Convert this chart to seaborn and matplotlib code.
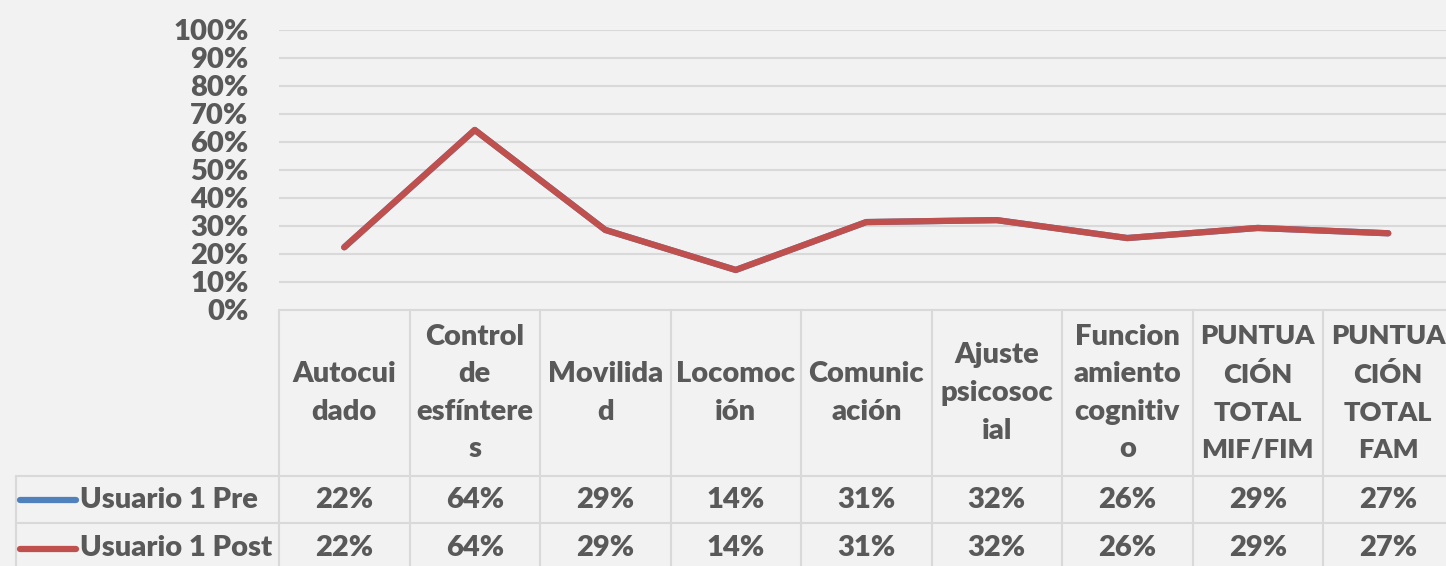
import numpy as np
import pandas as pd
import matplotlib
matplotlib.use("Agg")
import matplotlib.pyplot as plt
import seaborn as sns

# categories (full names) and the wrapped header text shown in the data table
categories = ["Autocuidado", "Control de esfínteres", "Movilidad", "Locomoción",
              "Comunicación", "Ajuste psicosocial", "Funcionamiento cognitivo",
              "PUNTUACIÓN TOTAL MIF/FIM", "PUNTUACIÓN TOTAL FAM"]
header_labels = ["Autocui\ndado", "Control\nde\nesfíntere\ns", "Movilida\nd", "Locomoc\nión",
                 "Comunic\nación", "Ajuste\npsicosoc\nial", "Funcion\namiento\ncognitiv\no",
                 "PUNTUA\nCIÓN\nTOTAL\nMIF/FIM", "PUNTUA\nCIÓN\nTOTAL\nFAM"]
pre_values = [0.224, 0.643, 0.286, 0.143, 0.314, 0.321, 0.257, 0.293, 0.274]
post_values = [0.224, 0.643, 0.286, 0.143, 0.314, 0.321, 0.257, 0.293, 0.274]
series_names = ["Usuario 1 Pre", "Usuario 1 Post"]
series_colors = ["#4F81BD", "#C0504D"]

df = pd.concat([
    pd.DataFrame({"Categoria": categories, "Valor": pre_values, "Serie": series_names[0]}),
    pd.DataFrame({"Categoria": categories, "Valor": post_values, "Serie": series_names[1]}),
], ignore_index=True)

sns.set_style("white")
plt.rcParams["font.family"] = ["Lato", "DejaVu Sans"]
bg = "#F2F2F2"
txt = "#595959"
grid = "#D9D9D9"
fs = 21
fw = "heavy"

W, H = 1446, 566
fig = plt.figure(figsize=(W / 100, H / 100), dpi=100, facecolor=bg)

# plot area in pixel terms
col_w = 130.5
left_px, top_px, bot_px = 279, 30, 310
ax = fig.add_axes([left_px / W, (H - bot_px) / H, 9 * col_w / W, (bot_px - top_px) / H])
ax.set_facecolor(bg)

sns.lineplot(data=df, x="Categoria", y="Valor", hue="Serie", hue_order=series_names,
             palette=series_colors, linewidth=4.5, sort=False, legend=False, ax=ax,
             solid_capstyle="round")

ax.set_xlim(-0.5, 8.5)
ax.set_ylim(0, 1)
ax.set_yticks(np.arange(0, 1.01, 0.1))
ax.set_yticklabels([f"{int(round(v * 100))}%" for v in np.arange(0, 1.01, 0.1)],
                   fontsize=fs, fontweight=fw, color=txt)
ax.tick_params(axis="y", length=0, pad=22)
ax.set_xticks([])
ax.set_xlabel("")
ax.set_ylabel("")
for v in np.arange(0.1, 1.01, 0.1):
    ax.axhline(v, color=grid, lw=1.5, zorder=0)
for s in ax.spines.values():
    s.set_visible(False)

# data table below the plot
tax = fig.add_axes([left_px / W, 0, 9 * col_w / W, (H - bot_px) / H])
tax.set_xlim(-0.5, 8.5)
tax.set_ylim(H, bot_px)
tax.axis("off")

leg_left = -0.5 - (left_px - 16) / col_w
row1, row2, row_end = 476, 523, 572
lkw = dict(color=grid, lw=1.5, clip_on=False)
tax.plot([-0.5, 8.5], [bot_px, bot_px], **lkw)
for yy in [row1, row2]:
    tax.plot([leg_left, 8.5], [yy, yy], **lkw)
for k in range(10):
    xx = -0.5 + k
    tax.plot([xx, xx], [bot_px, row_end], **lkw)
tax.plot([leg_left, leg_left], [row1, row_end], **lkw)

for i, lab in enumerate(header_labels):
    # the all-caps headers are wider in this font, so shrink them a bit to fit the cell
    hfs = 19.5 if lab.isupper() else fs
    tax.text(i, (bot_px + row1) / 2, lab, ha="center", va="center", fontsize=hfs,
             fontweight=fw, color=txt, linespacing=1.55 * fs / hfs, clip_on=False)

for r, (name, vals, col) in enumerate(zip(series_names, [pre_values, post_values], series_colors)):
    yc = [(row1 + row2) / 2, (row2 + row_end) / 2 + 1][r]
    tax.plot([leg_left + 0.03, leg_left + 0.46], [yc, yc], color=col, lw=4.5,
             solid_capstyle="round", clip_on=False)
    tax.text(leg_left + 0.49, yc, name, ha="left", va="center", fontsize=fs,
             fontweight=fw, color=txt, clip_on=False)
    for i, v in enumerate(vals):
        tax.text(i, yc, f"{int(round(v * 100))}%", ha="center", va="center", fontsize=fs,
                 fontweight=fw, color=txt, clip_on=False)

fig.savefig("out.png", dpi=100, facecolor=bg)
